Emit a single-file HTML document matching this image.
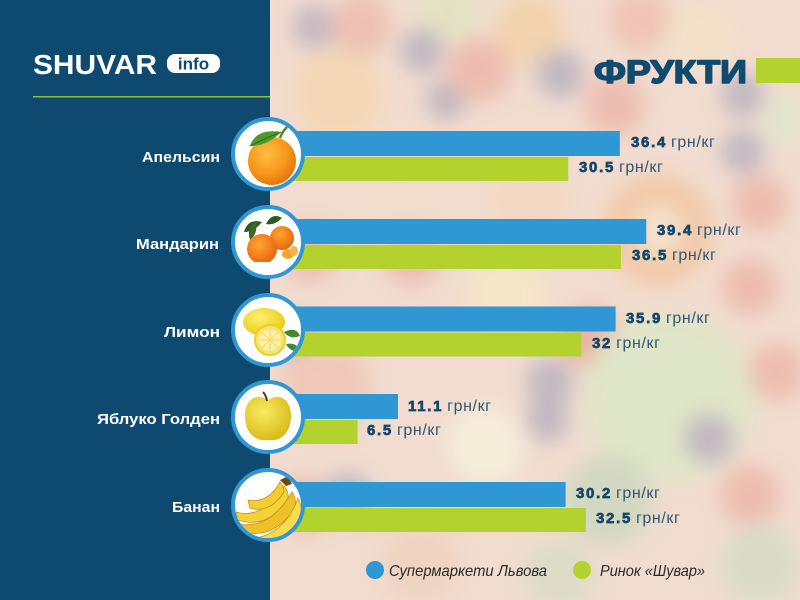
<!DOCTYPE html>
<html><head><meta charset="utf-8"><style>
html,body{margin:0;padding:0;width:800px;height:600px;overflow:hidden;background:#f2ddd0;}
svg{display:block;}
text{font-family:"Liberation Sans","Noto Sans CJK SC",sans-serif;}
</style></head><body>
<svg width="800" height="600" viewBox="0 0 800 600" xmlns="http://www.w3.org/2000/svg">
<defs>
<filter id="bl" x="-10%" y="-10%" width="120%" height="120%"><feGaussianBlur stdDeviation="10"/></filter>
<clipPath id="rc"><rect x="270" y="0" width="530" height="600"/></clipPath>
<radialGradient id="og" cx="40%" cy="35%" r="70%"><stop offset="0" stop-color="#ffc040"/><stop offset="0.6" stop-color="#f7961a"/><stop offset="1" stop-color="#e0700a"/></radialGradient>
<radialGradient id="mg" cx="40%" cy="35%" r="70%"><stop offset="0" stop-color="#ffa530"/><stop offset="1" stop-color="#e8620a"/></radialGradient>
<radialGradient id="lg" cx="40%" cy="35%" r="70%"><stop offset="0" stop-color="#fff070"/><stop offset="1" stop-color="#e8c810"/></radialGradient>
<radialGradient id="ag" cx="40%" cy="35%" r="70%"><stop offset="0" stop-color="#f8ec60"/><stop offset="1" stop-color="#d8b818"/></radialGradient>
<clipPath id="c0"><circle cx="268" cy="154" r="33"/></clipPath>
<clipPath id="c1"><circle cx="268" cy="242" r="33"/></clipPath>
<clipPath id="c2"><circle cx="268" cy="330" r="33"/></clipPath>
<clipPath id="c3"><circle cx="268" cy="417" r="33"/></clipPath>
<clipPath id="c4"><circle cx="268" cy="505" r="33"/></clipPath>
</defs>

<!-- background photo approximation -->
<g clip-path="url(#rc)">
<rect x="270" y="0" width="530" height="600" fill="#f1dccf"/>
<g filter="url(#bl)" opacity="0.85">
<circle cx="314" cy="27" r="22" fill="#bfb3c0"/>
<circle cx="361" cy="25" r="30" fill="#ecbcae"/>
<circle cx="449" cy="10" r="30" fill="#dfe3c0"/>
<circle cx="338" cy="95" r="45" fill="#f4d6b0"/>
<circle cx="530" cy="30" r="35" fill="#f3d2a8"/>
<circle cx="422" cy="51" r="22" fill="#b9b2bf"/>
<circle cx="446" cy="100" r="20" fill="#b9b2bf"/>
<circle cx="479" cy="70" r="32" fill="#ecb8aa"/>
<circle cx="560" cy="74" r="24" fill="#b9b2bf"/>
<circle cx="615" cy="105" r="30" fill="#ecb8aa"/>
<circle cx="640" cy="20" r="30" fill="#eec0b0"/>
<circle cx="700" cy="40" r="35" fill="#f3e3c8"/>
<circle cx="743" cy="95" r="22" fill="#bab3c0"/>
<circle cx="743" cy="152" r="22" fill="#bab3c0"/>
<circle cx="785" cy="120" r="25" fill="#dfe6cc"/>
<circle cx="400" cy="170" r="30" fill="#f3dcc8"/>
<circle cx="530" cy="200" r="40" fill="#f3d8c0"/>
<circle cx="658" cy="230" r="55" fill="#f2c6a0"/>
<circle cx="658" cy="230" r="25" fill="#f6e2cc"/>
<circle cx="760" cy="203" r="28" fill="#ecb8aa"/>
<circle cx="310" cy="253" r="28" fill="#ecb8aa"/>
<circle cx="412" cy="257" r="28" fill="#ecb8aa"/>
<circle cx="506" cy="294" r="40" fill="#f6e8c6"/>
<circle cx="290" cy="338" r="22" fill="#bab3c0"/>
<circle cx="591" cy="338" r="30" fill="#e8ad9e"/>
<circle cx="750" cy="287" r="28" fill="#ecb8aa"/>
<circle cx="669" cy="398" r="85" fill="#dde7c6"/>
<circle cx="777" cy="372" r="28" fill="#ecb8aa"/>
<circle cx="550" cy="382" r="24" fill="#b9b2bf"/>
<circle cx="547" cy="420" r="22" fill="#b9b2bf"/>
<circle cx="327" cy="388" r="45" fill="#f0c6b4"/>
<circle cx="486" cy="445" r="40" fill="#f7efdc"/>
<circle cx="709" cy="439" r="25" fill="#bab3c0"/>
<circle cx="304" cy="505" r="28" fill="#ecb8aa"/>
<circle cx="348" cy="497" r="24" fill="#b9b2bf"/>
<circle cx="608" cy="500" r="45" fill="#cdd8c0"/>
<circle cx="750" cy="495" r="30" fill="#ecb8aa"/>
<circle cx="420" cy="565" r="40" fill="#f0d2bf"/>
<circle cx="760" cy="565" r="40" fill="#d6dcc8"/>
<circle cx="560" cy="575" r="35" fill="#d9dcc6"/>
</g>
</g>

<!-- left panel -->
<rect x="0" y="0" width="270" height="600" fill="#0e4a6f"/>

<!-- logo -->
<text x="33" y="74" font-size="28" font-weight="bold" fill="#ffffff" textLength="124" lengthAdjust="spacingAndGlyphs">SHUVAR</text>
<rect x="167" y="54" width="53" height="19" rx="8" fill="#ffffff"/>
<text x="193.5" y="69.5" font-size="17" font-weight="bold" fill="#0e4a6f" text-anchor="middle">info</text>
<rect x="33" y="96" width="237" height="1.5" fill="#8fbf3a"/>

<!-- title -->
<text x="594" y="83" font-size="32" font-weight="bold" fill="#0f4a6f" stroke="#0f4a6f" stroke-width="1.6" stroke-linejoin="round" textLength="153" lengthAdjust="spacingAndGlyphs">ФРУКТИ</text>
<rect x="756" y="58" width="44" height="25" fill="#b4d22d"/>

<!-- bars -->
<g>
<rect x="270" y="131" width="349.8" height="25" fill="#2e97d4"/>
<rect x="270" y="157" width="298.2" height="24" fill="#b4d22d"/>
<rect x="270" y="219" width="376.3" height="25" fill="#2e97d4"/>
<rect x="270" y="245" width="350.9" height="24" fill="#b4d22d"/>
<rect x="270" y="306.5" width="345.6" height="25" fill="#2e97d4"/>
<rect x="270" y="332.5" width="311.4" height="24" fill="#b4d22d"/>
<rect x="270" y="394" width="128" height="25" fill="#2e97d4"/>
<rect x="270" y="420" width="87.6" height="24" fill="#b4d22d"/>
<rect x="270" y="482" width="295.6" height="25" fill="#2e97d4"/>
<rect x="270" y="508" width="315.8" height="24" fill="#b4d22d"/>
</g>

<!-- value labels -->
<g font-size="15" fill="#16476b">
<text x="631" y="147"><tspan font-weight="bold" letter-spacing="1.7" stroke="#16476b" stroke-width="0.7">36.4</tspan><tspan fill="#2f5676" font-size="16" letter-spacing="0.6" dx="4">грн/кг</tspan></text>
<text x="579" y="172"><tspan font-weight="bold" letter-spacing="1.7" stroke="#16476b" stroke-width="0.7">30.5</tspan><tspan fill="#2f5676" font-size="16" letter-spacing="0.6" dx="4">грн/кг</tspan></text>
<text x="657" y="235"><tspan font-weight="bold" letter-spacing="1.7" stroke="#16476b" stroke-width="0.7">39.4</tspan><tspan fill="#2f5676" font-size="16" letter-spacing="0.6" dx="4">грн/кг</tspan></text>
<text x="632" y="260"><tspan font-weight="bold" letter-spacing="1.7" stroke="#16476b" stroke-width="0.7">36.5</tspan><tspan fill="#2f5676" font-size="16" letter-spacing="0.6" dx="4">грн/кг</tspan></text>
<text x="626" y="323"><tspan font-weight="bold" letter-spacing="1.7" stroke="#16476b" stroke-width="0.7">35.9</tspan><tspan fill="#2f5676" font-size="16" letter-spacing="0.6" dx="4">грн/кг</tspan></text>
<text x="592" y="348"><tspan font-weight="bold" letter-spacing="1.7" stroke="#16476b" stroke-width="0.7">32</tspan><tspan fill="#2f5676" font-size="16" letter-spacing="0.6" dx="4">грн/кг</tspan></text>
<text x="408" y="411"><tspan font-weight="bold" letter-spacing="1.7" stroke="#16476b" stroke-width="0.7">11.1</tspan><tspan fill="#2f5676" font-size="16" letter-spacing="0.6" dx="4">грн/кг</tspan></text>
<text x="367" y="435"><tspan font-weight="bold" letter-spacing="1.7" stroke="#16476b" stroke-width="0.7">6.5</tspan><tspan fill="#2f5676" font-size="16" letter-spacing="0.6" dx="4">грн/кг</tspan></text>
<text x="576" y="498"><tspan font-weight="bold" letter-spacing="1.7" stroke="#16476b" stroke-width="0.7">30.2</tspan><tspan fill="#2f5676" font-size="16" letter-spacing="0.6" dx="4">грн/кг</tspan></text>
<text x="596" y="523"><tspan font-weight="bold" letter-spacing="1.7" stroke="#16476b" stroke-width="0.7">32.5</tspan><tspan fill="#2f5676" font-size="16" letter-spacing="0.6" dx="4">грн/кг</tspan></text>
</g>

<!-- category labels -->
<g font-size="15" font-weight="bold" fill="#ffffff">
<text x="142" y="162" textLength="78" lengthAdjust="spacingAndGlyphs">Апельсин</text>
<text x="136" y="249" textLength="83" lengthAdjust="spacingAndGlyphs">Мандарин</text>
<text x="164" y="337" textLength="56" lengthAdjust="spacingAndGlyphs">Лимон</text>
<text x="97" y="424" textLength="123" lengthAdjust="spacingAndGlyphs">Яблуко Голден</text>
<text x="172" y="512" textLength="48" lengthAdjust="spacingAndGlyphs">Банан</text>
</g>

<!-- circles -->
<g stroke="#2e97d4" stroke-width="4" fill="#ffffff">
<circle cx="268" cy="154" r="35"/>
<circle cx="268" cy="242" r="35"/>
<circle cx="268" cy="330" r="35"/>
<circle cx="268" cy="417" r="35"/>
<circle cx="268" cy="505" r="35"/>
</g>

<!-- orange -->
<g clip-path="url(#c0)">
<circle cx="272" cy="161" r="24" fill="url(#og)"/>
<path d="M250 146 Q256 128 281 132 Q268 146 250 146 Z" fill="#4f9a2a"/>
<path d="M250 146 Q266 138 281 132" stroke="#2f6a18" stroke-width="1" fill="none"/>
<path d="M280 138 Q282 132 287 127" stroke="#5a8a20" stroke-width="2.5" fill="none"/>
</g>

<!-- mandarin -->
<g clip-path="url(#c1)">
<path d="M244 232 Q248 218 262 222 Q254 232 244 232 Z" fill="#2f5a20"/>
<path d="M250 240 Q246 226 256 222 Q258 234 250 240 Z" fill="#3a6a24"/>
<path d="M266 224 Q272 212 282 218 Q274 226 266 224 Z" fill="#2f5a20"/>
<circle cx="282" cy="238" r="12" fill="url(#mg)"/>
<circle cx="262" cy="249" r="15" fill="url(#mg)"/>
<ellipse cx="288" cy="254" rx="6" ry="5" fill="#f6a42a"/>
<ellipse cx="294" cy="251" rx="4" ry="5" fill="#f8b440"/>
<rect x="236" y="262" width="64" height="14" fill="#ffffff"/>
</g>

<!-- lemon -->
<g clip-path="url(#c2)">
<ellipse cx="264" cy="322" rx="21" ry="14" fill="url(#lg)"/>
<path d="M284 332 Q296 326 300 336 Q290 340 284 332 Z" fill="#3f8a2a"/>
<path d="M286 344 Q298 342 300 352 Q290 352 286 344 Z" fill="#3f8a2a"/>
<circle cx="270" cy="340" r="15" fill="#f7e27a" stroke="#ecd020" stroke-width="2"/>
<circle cx="270" cy="340" r="11" fill="#fcf0a8"/>
<g stroke="#f3dc60" stroke-width="1"><line x1="270" y1="329" x2="270" y2="351"/><line x1="259" y1="340" x2="281" y2="340"/><line x1="262" y1="332" x2="278" y2="348"/><line x1="278" y1="332" x2="262" y2="348"/></g>
</g>

<!-- apple -->
<g clip-path="url(#c3)">
<path d="M268 400 C256 392 244 400 245 418 C246 434 256 442 268 440 C280 442 290 434 291 418 C292 400 280 392 268 400 Z" fill="url(#ag)"/>
<path d="M267 401 Q266 395 263 392" stroke="#5a3a18" stroke-width="2" fill="none"/>
</g>

<!-- banana -->
<g clip-path="url(#c4)" stroke="#c8940e" stroke-width="0.8">
<path d="M236 512 Q262 520 284 486 Q289 492 288 498 Q268 530 238 520 Z" fill="#f5d23a"/>
<path d="M238 524 Q270 530 292 492 Q297 500 295 508 Q274 540 242 532 Z" fill="#eec02a"/>
<path d="M256 538 Q286 532 298 498 Q303 508 300 518 Q286 542 260 544 Z" fill="#f8dc50"/>
<path d="M248 500 Q268 504 280 482 Q284 486 284 492 Q270 514 250 508 Z" fill="#f3cc30"/>
<path d="M280 480 L288 476 L292 484 L286 486 Z" fill="#6a4a18" stroke="none"/>
</g>

<!-- legend -->
<circle cx="375" cy="570" r="9" fill="#2e97d4"/>
<text x="389" y="576" font-size="16" font-style="italic" fill="#2a2a2a" textLength="158" lengthAdjust="spacingAndGlyphs">Супермаркети Львова</text>
<circle cx="582" cy="570" r="9" fill="#b4d22d"/>
<text x="600" y="576" font-size="16" font-style="italic" fill="#2a2a2a" textLength="105" lengthAdjust="spacingAndGlyphs">Ринок «Шувар»</text>
</svg>
</body></html>
